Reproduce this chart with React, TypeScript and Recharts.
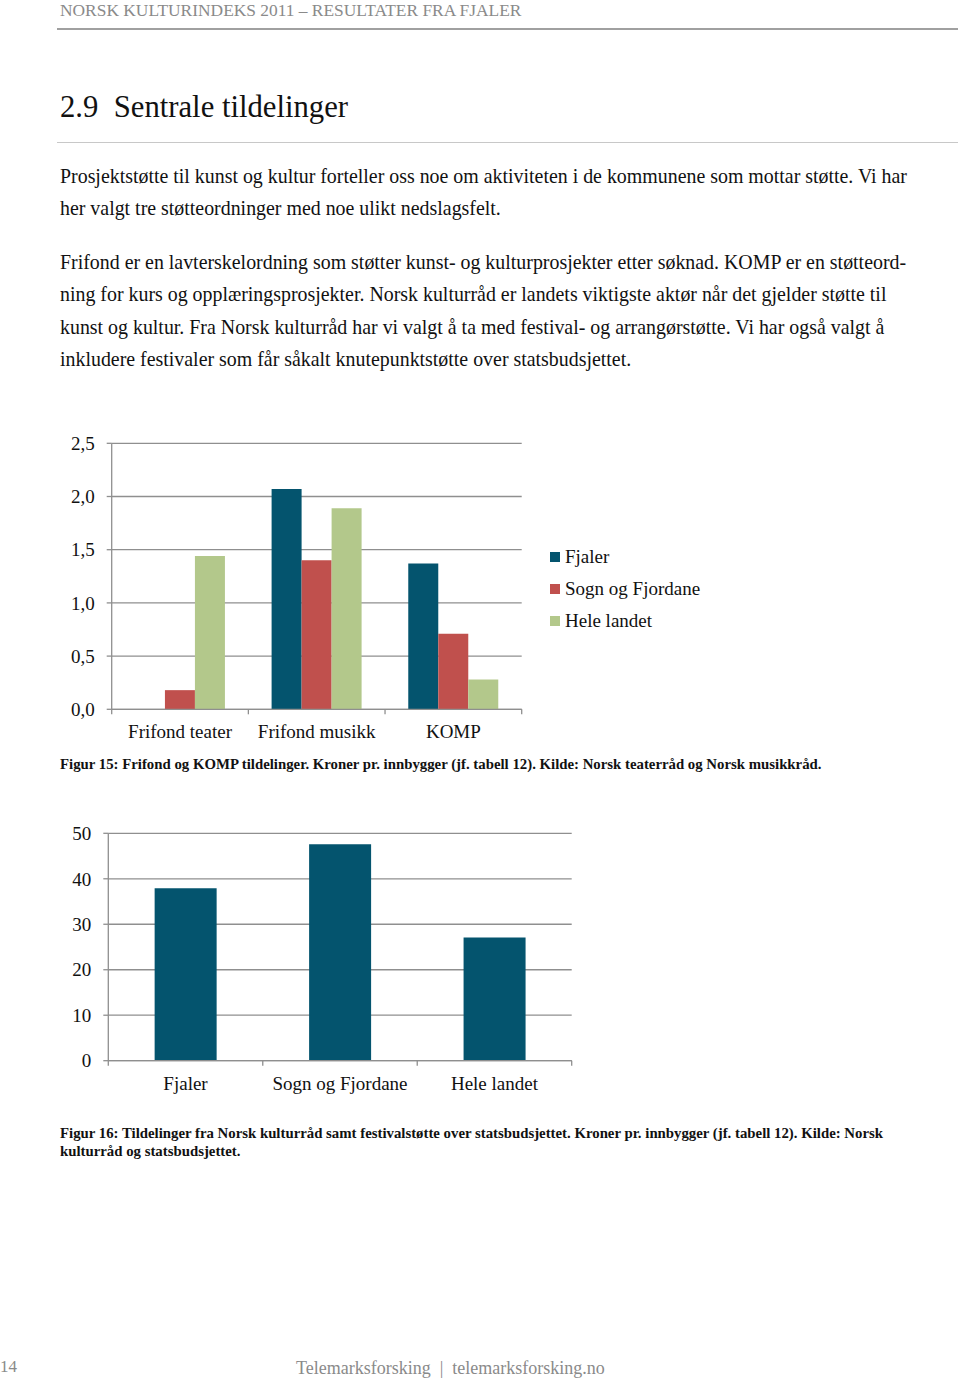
import React from "react";
import { BarChart, Bar, XAxis, YAxis, CartesianGrid } from "recharts";

// Figur 15: Frifond og KOMP, kroner pr. innbygger
const CATEGORIES_15 = ["Frifond teater", "Frifond musikk", "KOMP"];
const FJALER_15 = [0, 2.07, 1.37];
const SOGN_15 = [0.18, 1.4, 0.71];
const HELE_15 = [1.44, 1.89, 0.28];
const TICKS_15 = [0, 0.5, 1, 1.5, 2, 2.5];

// Figur 16: Norsk kulturråd + festivalstøtte over statsbudsjettet
const CATEGORIES_16 = ["Fjaler", "Sogn og Fjordane", "Hele landet"];
const VALUES_16 = [37.9, 47.6, 27.1];
const TICKS_16 = [0, 10, 20, 30, 40, 50];

const SERIES = [
  { key: "fjaler", name: "Fjaler", color: "#04546E" },
  { key: "sogn", name: "Sogn og Fjordane", color: "#C0504D" },
  { key: "hele", name: "Hele landet", color: "#B3C88B" },
];

const FONT = "'Liberation Serif', 'Times New Roman', serif";
const GRID = "#8f8f8f";

const data15 = CATEGORIES_15.map((name, i) => ({
  name,
  fjaler: FJALER_15[i],
  sogn: SOGN_15[i],
  hele: HELE_15[i],
}));

const data16 = CATEGORIES_16.map((name, i) => ({ name, value: VALUES_16[i] }));

const comma = (v: number) => v.toFixed(1).replace(".", ",");

// category label plus tick marks on the band edges, like Excel does
function BandTick(props: any) {
  const { x, y, payload, index, visibleTicksCount, band } = props;
  const half = payload?.offset || band / 2;
  const last = index === visibleTicksCount - 1;
  return (
    <g>
      <line x1={x - half} x2={x - half} y1={y - 8} y2={y - 3} stroke={GRID} strokeWidth={1.3} />
      {last && <line x1={x + half} x2={x + half} y1={y - 8} y2={y - 3} stroke={GRID} strokeWidth={1.3} />}
      <text x={x} y={y + 21} textAnchor="middle" fontFamily={FONT} fontSize={19} fill="#111">
        {payload.value}
      </text>
    </g>
  );
}

function LegendBox() {
  return (
    <div style={{ position: "absolute", left: 550, top: 541, fontFamily: FONT, fontSize: 19, color: "#111" }}>
      {SERIES.map((s) => (
        <div key={s.key} style={{ display: "flex", alignItems: "center", height: 32, whiteSpace: "nowrap" }}>
          <span style={{ width: 10, height: 10, background: s.color, marginRight: 5 }} />
          {s.name}
        </div>
      ))}
    </div>
  );
}

const line = (top: number, text: string, extra: React.CSSProperties = {}) => (
  <div style={{ position: "absolute", left: 60, top, whiteSpace: "nowrap", ...extra }}>{text}</div>
);

export default function App() {
  const body: React.CSSProperties = { fontSize: 19.9, color: "#111", lineHeight: "24px" };
  const cap: React.CSSProperties = { fontSize: 14.8, fontWeight: "bold", color: "#111", lineHeight: "18px" };
  return (
    <div
      style={{
        position: "absolute",
        left: 0,
        top: 0,
        width: 960,
        height: 1378,
        background: "#fff",
        fontFamily: FONT,
        overflow: "hidden",
      }}
    >
      {line(0, "NORSK KULTURINDEKS 2011 – RESULTATER FRA FJALER", { fontSize: 17.4, color: "#8a8a8a", lineHeight: "20px" })}
      <div style={{ position: "absolute", left: 57, top: 28, width: 901, height: 2, background: "#a0a0a0" }} />

      {line(89, "2.9  Sentrale tildelinger", { fontSize: 30.7, color: "#111", lineHeight: "36px", whiteSpace: "pre" })}
      <div style={{ position: "absolute", left: 57, top: 142, width: 901, height: 1, background: "#c8c8c8" }} />

      {line(164, "Prosjektstøtte til kunst og kultur forteller oss noe om aktiviteten i de kommunene som mottar støtte. Vi har", body)}
      {line(196, "her valgt tre støtteordninger med noe ulikt nedslagsfelt.", body)}
      {line(250, "Frifond er en lavterskelordning som støtter kunst- og kulturprosjekter etter søknad. KOMP er en støtteord-", body)}
      {line(282, "ning for kurs og opplæringsprosjekter. Norsk kulturråd er landets viktigste aktør når det gjelder støtte til", body)}
      {line(315, "kunst og kultur. Fra Norsk kulturråd har vi valgt å ta med festival- og arrangørstøtte. Vi har også valgt å", body)}
      {line(347, "inkludere festivaler som får såkalt knutepunktstøtte over statsbudsjettet.", body)}

      <div style={{ position: "absolute", left: 0, top: 420 }}>
        <BarChart
          width={720}
          height={340}
          data={data15}
          margin={{ top: 23.3, right: 198.3, left: 0, bottom: 20.7 }}
          barCategoryGap="17%"
          barGap={0}
        >
          <CartesianGrid vertical={false} stroke={GRID} strokeWidth={1.3} />
          <XAxis
            dataKey="name"
            height={30}
            stroke={GRID}
            strokeWidth={1.3}
            tickLine={false}
            interval={0}
            tick={<BandTick band={410 / 3} />}
          />
          <YAxis
            width={111.7}
            domain={[0, 2.5]}
            ticks={TICKS_15}
            tickFormatter={comma}
            stroke={GRID}
            strokeWidth={1.3}
            tickSize={5}
            tickMargin={12}
            tick={{ fontFamily: FONT, fontSize: 19, fill: "#111" }}
          />
          {SERIES.map((s) => (
            <Bar key={s.key} dataKey={s.key} name={s.name} fill={s.color} isAnimationActive={false} />
          ))}
        </BarChart>
      </div>
      <LegendBox />

      {line(755, "Figur 15: Frifond og KOMP tildelinger. Kroner pr. innbygger (jf. tabell 12). Kilde: Norsk teaterråd og Norsk musikkråd.", cap)}

      <div style={{ position: "absolute", left: 0, top: 810 }}>
        <BarChart
          width={600}
          height={290}
          data={data16}
          margin={{ top: 23.3, right: 28.3, left: 0, bottom: 9.3 }}
          barCategoryGap="30%"
        >
          <CartesianGrid vertical={false} stroke={GRID} strokeWidth={1.3} />
          <XAxis
            dataKey="name"
            height={30}
            stroke={GRID}
            strokeWidth={1.3}
            tickLine={false}
            interval={0}
            tick={<BandTick band={463.4 / 3} />}
          />
          <YAxis
            width={108.3}
            domain={[0, 50]}
            ticks={TICKS_16}
            stroke={GRID}
            strokeWidth={1.3}
            tickSize={5}
            tickMargin={12}
            tick={{ fontFamily: FONT, fontSize: 19, fill: "#111" }}
          />
          <Bar dataKey="value" fill={SERIES[0].color} isAnimationActive={false} />
        </BarChart>
      </div>

      {line(1124, "Figur 16: Tildelinger fra Norsk kulturråd samt festivalstøtte over statsbudsjettet. Kroner pr. innbygger (jf. tabell 12). Kilde: Norsk", cap)}
      {line(1142, "kulturråd og statsbudsjettet.", cap)}

      <div style={{ position: "absolute", left: 0, top: 1356, fontSize: 17, color: "#8a8a8a", lineHeight: "22px" }}>14</div>
      <div
        style={{
          position: "absolute",
          left: 296,
          top: 1357,
          fontSize: 18,
          color: "#8a8a8a",
          lineHeight: "22px",
          whiteSpace: "pre",
        }}
      >
        {"Telemarksforsking  |  telemarksforsking.no"}
      </div>
    </div>
  );
}
